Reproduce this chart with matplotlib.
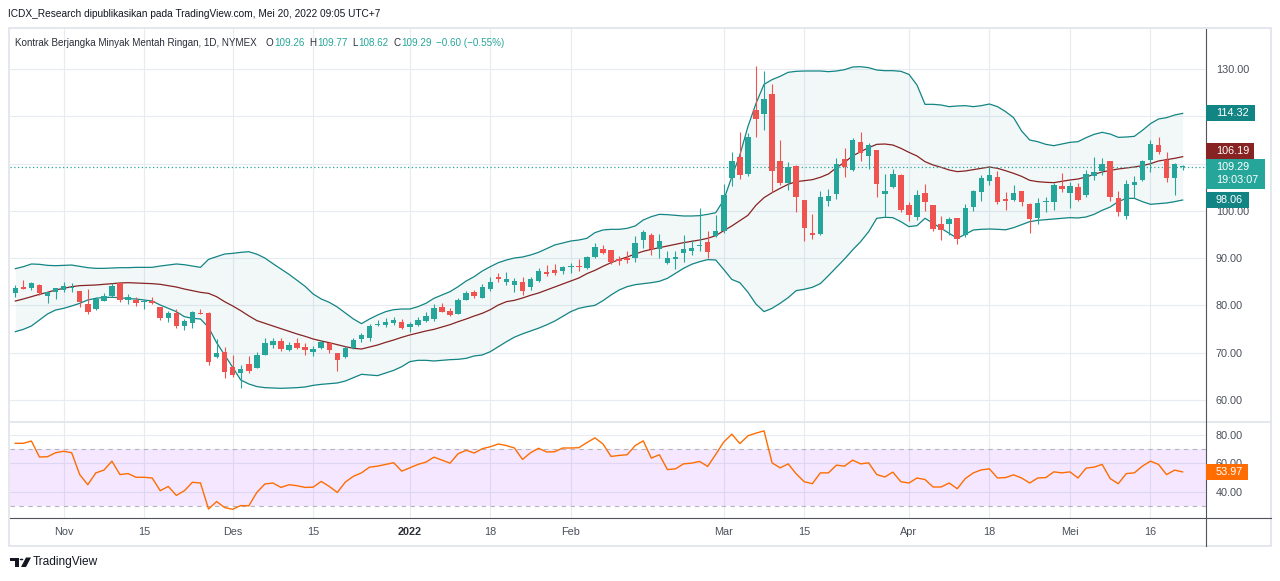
import matplotlib
matplotlib.use("Agg")
import matplotlib.pyplot as plt
from matplotlib.lines import Line2D
from matplotlib.patches import Rectangle, Circle, Polygon
import numpy as np
import pandas as pd

plt.rcParams["font.family"] = ["Liberation Sans", "DejaVu Sans"]

W, H = 1280, 581

# trading days shown (NYMEX holidays removed)
HOLIDAYS = ["2021-11-25", "2021-12-24", "2022-01-17", "2022-02-21", "2022-04-15"]
dates = pd.bdate_range("2021-10-22", "2022-05-20")
dates = dates[~dates.isin(pd.to_datetime(HOLIDAYS))]

OPEN = [82.56, 83.83, 83.62, 84.33, 82.07, 82.92, 83.27, 83.77, 83.06, 80.24,
        79.25, 81.02, 82.00, 84.68, 81.16, 81.16, 80.66, 81.02, 79.60, 77.42,
        78.34, 75.66, 76.36, 78.48, 78.48, 69.03, 70.09, 67.06, 65.65, 67.62,
        66.85, 69.53, 71.64, 72.49, 70.58, 71.99, 71.22, 70.23, 71.08, 71.99,
        69.88, 69.18, 71.08, 72.91, 73.19, 75.87, 75.87, 76.22, 76.57, 75.52,
        75.87, 76.78, 77.14, 79.75, 78.83, 78.20, 81.16, 82.92, 81.65, 83.48,
        86.09, 84.95, 84.40, 85.04, 83.98, 85.25, 87.08, 87.43, 87.36, 88.14,
        88.28, 87.85, 90.18, 91.94, 91.66, 89.83, 90.11, 89.97, 93.77, 94.97,
        92.01, 89.05, 89.90, 91.17, 91.52, 92.50, 93.42, 94.76, 95.82, 107.02,
        111.32, 107.80, 121.33, 120.49, 124.71, 110.55, 105.83, 109.56, 102.30, 95.26,
        95.12, 102.16, 103.50, 110.97, 108.65, 114.50, 111.68, 112.88, 103.50, 105.12,
        107.59, 101.25, 98.78, 103.86, 101.25, 97.16, 97.16, 98.43, 94.90, 100.90,
        104.07, 106.39, 107.24, 102.44, 102.30, 104.20, 101.46, 98.57, 101.81, 101.95,
        105.26, 103.85, 104.98, 103.36, 107.45, 108.43, 110.55, 102.65, 98.99, 105.47,
        106.53, 110.76, 113.93, 110.76, 106.88, 109.26]
HIGH = [84.33, 85.38, 85.03, 84.54, 82.92, 83.62, 85.03, 84.68, 83.06, 83.41,
        81.72, 82.57, 84.68, 84.82, 82.42, 81.72, 81.16, 81.72, 79.75, 78.83,
        79.25, 77.14, 78.90, 79.25, 78.69, 72.91, 71.29, 69.53, 67.41, 69.32,
        70.23, 73.05, 73.05, 73.19, 72.20, 73.05, 71.99, 71.50, 72.70, 72.34,
        69.88, 71.50, 73.05, 74.11, 76.08, 76.93, 77.28, 77.49, 77.14, 76.43,
        77.56, 78.55, 80.24, 80.45, 79.39, 81.51, 83.06, 83.27, 84.47, 85.95,
        86.93, 87.05, 85.74, 85.95, 85.95, 87.85, 88.49, 88.77, 88.35, 89.05,
        89.76, 90.39, 93.21, 92.72, 91.66, 90.53, 91.59, 94.69, 95.96, 95.26,
        95.12, 91.45, 91.45, 94.97, 93.84, 100.68, 95.75, 99.13, 105.68, 112.45,
        116.75, 116.40, 130.63, 129.58, 126.83, 114.99, 110.27, 109.70, 102.30, 99.27,
        104.21, 104.63, 111.25, 113.23, 115.48, 116.61, 114.29, 112.88, 107.80, 108.79,
        107.73, 101.95, 104.42, 105.69, 101.25, 98.92, 98.64, 98.43, 101.46, 104.42,
        107.59, 109.35, 108.44, 103.92, 105.47, 104.20, 101.74, 102.79, 103.01, 105.82,
        107.94, 106.04, 105.82, 108.64, 111.46, 111.25, 110.55, 104.20, 106.53, 107.45,
        110.76, 114.99, 115.69, 112.38, 110.06, 109.77]
LOW = [81.86, 83.55, 83.27, 82.21, 80.59, 81.37, 82.92, 82.85, 79.75, 78.20,
       79.04, 81.02, 81.72, 80.80, 80.31, 79.89, 79.25, 80.31, 76.93, 76.57,
       75.16, 74.81, 75.31, 78.20, 67.41, 68.82, 64.59, 64.95, 62.62, 65.79,
       66.71, 69.53, 71.08, 70.37, 70.37, 70.79, 69.53, 69.39, 70.79, 69.88,
       66.21, 68.82, 70.79, 72.34, 72.49, 75.73, 75.52, 75.87, 75.02, 74.46,
       75.66, 76.57, 76.78, 78.69, 77.84, 78.20, 81.16, 81.51, 81.65, 83.13,
       85.03, 84.40, 82.92, 82.22, 83.27, 85.04, 86.24, 86.52, 86.66, 86.80,
       87.36, 87.64, 89.97, 90.81, 88.77, 88.56, 89.05, 89.26, 92.22, 90.67,
       90.11, 88.70, 87.64, 89.26, 90.67, 91.59, 90.11, 94.55, 95.40, 105.26,
       106.67, 107.45, 115.69, 117.10, 103.93, 105.48, 104.42, 99.84, 93.64, 94.06,
       94.90, 101.10, 102.52, 107.24, 108.44, 110.62, 108.79, 103.01, 98.64, 104.77,
       99.84, 97.94, 98.07, 100.05, 95.82, 93.85, 94.90, 93.00, 94.55, 99.98,
       102.09, 105.48, 101.46, 100.19, 102.09, 101.03, 95.40, 97.16, 99.83, 100.19,
       103.92, 100.54, 102.16, 103.01, 106.53, 107.59, 102.09, 98.99, 98.28, 102.65,
       106.32, 108.29, 111.96, 106.18, 103.36, 108.62]
CLOSE = [83.62, 83.55, 84.82, 82.56, 82.92, 83.62, 84.12, 83.98, 80.80, 78.69,
         81.30, 82.00, 84.12, 81.16, 81.72, 80.59, 80.94, 80.59, 77.28, 78.34,
         75.66, 76.71, 78.69, 78.20, 68.12, 69.88, 66.00, 65.30, 66.50, 66.22,
         69.53, 71.99, 72.49, 70.79, 71.64, 71.08, 70.65, 70.79, 72.34, 70.58,
         68.47, 71.08, 72.70, 73.76, 75.66, 76.08, 76.57, 76.93, 75.16, 76.08,
         76.93, 77.84, 79.39, 78.69, 77.99, 81.16, 82.56, 82.07, 83.90, 84.89,
         85.60, 85.60, 85.25, 83.13, 85.60, 87.29, 86.59, 86.80, 88.07, 88.28,
         88.14, 90.18, 92.29, 91.17, 89.12, 89.48, 89.69, 93.21, 95.54, 91.94,
         93.56, 89.97, 90.18, 91.94, 92.15, 92.85, 91.24, 95.75, 103.36, 110.55,
         107.59, 115.69, 119.36, 123.66, 108.51, 105.83, 109.28, 103.01, 96.31, 94.90,
         102.87, 103.15, 109.92, 109.21, 114.99, 112.17, 113.93, 105.69, 104.21, 107.80,
         100.19, 99.13, 103.36, 101.95, 96.10, 95.96, 98.29, 94.06, 100.54, 104.21,
         106.88, 107.59, 101.95, 102.16, 103.71, 101.95, 98.28, 101.60, 102.09, 105.47,
         104.56, 105.26, 102.30, 107.80, 108.15, 109.91, 103.01, 99.69, 105.68, 106.04,
         110.55, 114.07, 112.38, 107.02, 109.89, 109.29]

# Bollinger bands as drawn on the chart
BB_UPPER = [87.78, 88.20, 88.77, 88.70, 88.48, 88.41, 88.48, 88.55, 88.27, 87.99,
            87.85, 87.85, 87.92, 87.99, 87.99, 88.06, 88.06, 88.06, 88.34, 88.55,
            88.77, 88.62, 88.34, 88.06, 89.75, 90.32, 90.88, 91.02, 91.23, 91.37,
            90.85, 90.03, 88.84, 87.71, 86.58, 85.31, 84.04, 82.42, 81.37, 80.66,
            79.67, 78.41, 77.14, 76.15, 77.14, 77.98, 78.69, 79.11, 79.25, 79.25,
            79.74, 80.45, 81.51, 82.21, 82.92, 83.97, 85.17, 86.09, 87.28, 88.20,
            89.05, 89.61, 90.04, 90.25, 90.67, 91.24, 92.01, 92.79, 93.21, 93.63,
            93.84, 94.20, 95.40, 95.96, 96.10, 96.10, 96.31, 96.81, 98.07, 98.78,
            99.27, 99.20, 99.06, 98.92, 98.92, 98.99, 99.27, 99.62, 102.30, 107.23,
            111.82, 117.81, 122.70, 126.76, 127.75, 128.45, 129.30, 129.51, 129.58, 129.58,
            129.58, 129.44, 129.58, 129.86, 130.42, 130.49, 130.28, 129.79, 129.65, 129.65,
            129.51, 128.87, 126.62, 122.53, 122.53, 122.39, 122.04, 122.18, 122.25, 122.04,
            122.25, 122.60, 122.04, 121.00, 119.71, 116.89, 114.99, 114.63, 114.07, 113.79,
            114.14, 114.49, 114.63, 115.48, 116.18, 116.61, 116.25, 115.55, 115.62, 115.76,
            117.03, 118.44, 119.43, 119.71, 120.27, 120.62]
BB_BASIS = [80.94, 81.37, 81.86, 82.35, 82.78, 83.27, 83.62, 83.97, 84.19, 84.26,
            84.33, 84.47, 84.61, 84.75, 84.82, 84.75, 84.68, 84.61, 84.47, 84.19,
            83.90, 83.48, 83.13, 82.78, 82.56, 81.86, 80.80, 79.90, 78.90, 77.80,
            76.80, 76.22, 75.66, 75.09, 74.53, 73.97, 73.47, 72.91, 72.49, 72.13,
            71.71, 71.29, 70.94, 70.79, 71.22, 71.64, 72.20, 72.70, 73.26, 73.76,
            74.18, 74.60, 74.95, 75.45, 75.94, 76.57, 77.14, 77.77, 78.34, 79.11,
            80.10, 80.80, 81.09, 81.58, 82.15, 82.64, 83.27, 83.91, 84.54, 85.18,
            85.81, 86.73, 87.43, 88.28, 89.05, 89.69, 90.25, 90.89, 91.45, 91.87,
            92.22, 92.58, 92.93, 93.28, 93.56, 93.84, 94.20, 94.76, 95.82, 96.81,
            97.93, 99.06, 101.20, 102.80, 103.85, 104.77, 105.62, 106.18, 106.39, 106.60,
            107.10, 107.80, 109.14, 110.27, 111.61, 112.52, 113.37, 114.07, 114.14, 113.93,
            113.23, 112.38, 111.61, 110.41, 109.70, 109.21, 108.65, 108.30, 108.44, 108.72,
            109.00, 109.28, 109.00, 108.50, 107.94, 107.30, 106.46, 106.18, 106.04, 105.97,
            106.25, 106.53, 106.74, 107.16, 107.73, 108.22, 108.57, 108.86, 109.07, 109.28,
            109.56, 109.98, 110.55, 110.83, 111.11, 111.46]
BB_LOWER = [74.46, 74.95, 75.66, 76.93, 78.20, 79.04, 79.39, 79.89, 80.45, 81.16,
            81.51, 81.72, 81.72, 81.65, 81.44, 81.37, 81.16, 80.94, 80.10, 79.39,
            78.69, 77.63, 77.28, 77.14, 75.38, 72.13, 69.53, 66.92, 64.24, 63.40,
            62.85, 62.62, 62.55, 62.48, 62.55, 62.62, 62.76, 63.11, 63.32, 63.47,
            63.61, 64.03, 64.73, 65.44, 65.30, 65.16, 65.72, 66.28, 67.06, 68.12,
            68.40, 68.40, 68.26, 68.40, 68.54, 68.61, 68.82, 69.32, 69.53, 70.23,
            71.29, 72.34, 73.30, 74.00, 74.60, 75.20, 75.90, 76.70, 77.70, 78.70,
            79.40, 79.75, 80.03, 81.02, 82.22, 83.27, 83.98, 84.40, 84.61, 84.82,
            85.11, 85.74, 86.80, 87.85, 88.70, 89.26, 89.69, 89.62, 87.60, 85.50,
            84.82, 82.80, 80.30, 78.70, 79.40, 80.46, 81.66, 83.14, 83.42, 83.84,
            84.62, 86.31, 88.07, 89.83, 91.74, 93.50, 95.61, 98.43, 98.64, 98.57,
            97.72, 96.67, 96.88, 98.43, 97.37, 96.31, 95.26, 94.20, 95.05, 95.96,
            96.10, 96.17, 96.10, 96.00, 96.45, 97.09, 97.72, 98.00, 98.14, 98.28,
            98.43, 98.57, 98.50, 98.71, 99.27, 100.12, 100.82, 101.95, 102.65, 102.65,
            101.95, 101.39, 101.53, 101.67, 101.95, 102.30]
RSI = [74.0, 74.0, 75.6, 64.4, 64.6, 67.4, 68.4, 67.4, 52.1, 45.0,
       53.3, 55.2, 61.5, 52.1, 52.8, 50.2, 50.2, 49.7, 40.8, 43.8,
       37.5, 40.8, 46.7, 46.2, 28.0, 33.2, 29.0, 27.8, 30.4, 30.2,
       39.6, 45.5, 46.2, 43.1, 45.0, 44.3, 43.1, 43.3, 47.3, 43.8,
       39.6, 46.9, 50.9, 53.3, 57.3, 58.0, 59.2, 60.4, 54.5, 56.8,
       59.2, 60.8, 64.3, 62.2, 60.1, 66.7, 69.1, 67.2, 70.2, 71.6,
       73.5, 72.4, 70.7, 62.7, 67.4, 70.5, 67.9, 68.1, 70.7, 70.7,
       70.9, 74.5, 77.8, 73.5, 64.8, 65.5, 66.0, 72.4, 75.7, 63.6,
       66.0, 55.6, 56.1, 59.6, 60.1, 61.3, 57.8, 66.2, 74.9, 80.4,
       73.8, 79.2, 81.1, 82.7, 60.3, 56.8, 59.6, 52.6, 47.1, 45.7,
       53.3, 53.3, 58.7, 58.0, 62.2, 59.6, 60.3, 52.1, 50.4, 53.8,
       47.1, 46.2, 49.7, 48.6, 43.4, 43.4, 46.2, 42.2, 49.3, 53.3,
       55.4, 56.1, 49.7, 50.0, 51.9, 49.7, 46.2, 49.7, 50.0, 54.0,
       53.3, 54.0, 49.7, 56.6, 57.3, 59.2, 49.3, 45.7, 52.8, 53.3,
       58.0, 61.5, 59.2, 52.1, 55.2, 53.97]

TICK_DATES = ["2021-11-01", "2021-11-15", "2021-12-01", "2021-12-15", "2022-01-03",
              "2022-01-18", "2022-02-01", "2022-03-01", "2022-03-15", "2022-04-01",
              "2022-04-18", "2022-05-02", "2022-05-16"]
TICK_LABELS = ["Nov", "15", "Des", "15", "2022", "18", "Feb", "Mar", "15", "Apr", "18", "Mei", "16"]
PRICE_TICKS = [60, 70, 80, 90, 100, 110, 120, 130]
RSI_TICKS = [40, 60, 80]
RSI_BAND = (30, 70)
BB_TAGS = ["114.32", "106.19", "98.06"]
CLOCK = "19:03:07"

HEADER = "ICDX_Research dipublikasikan pada TradingView.com, Mei 20, 2022 09:05 UTC+7"
TITLE = "Kontrak Berjangka Minyak Mentah Ringan, 1D, NYMEX"
OHLC_LEGEND = [("O", "109.26"), ("H", "109.77"), ("L", "108.62"), ("C", "109.29")]
CHANGE = "\u22120.60 (\u22120.55%)"

GREEN = "#26a69a"
RED = "#ef5350"
BB_LINE = "#138484"
BB_MID = "#872323"
RSI_COLOR = "#ff6d00"
GRID = "#e6ecf2"
TEXT = "#4a4f5a"
DARK = "#2a2e39"
AXIS = "#50535e"

# pixel layout
LEFT, SCALE_X, RIGHT = 10, 1206, 1271
TOP, SEP, AX_BOTTOM, BOTTOM = 29, 421, 518, 546


def fx(px):
    return px / W


def fy(py):
    return 1 - py / H


fig = plt.figure(figsize=(W / 100, H / 100), dpi=100)
fig.patch.set_facecolor("white")

ax = fig.add_axes([fx(LEFT), fy(SEP), (SCALE_X - LEFT) / W, (SEP - TOP) / H])
rax = fig.add_axes([fx(LEFT), fy(AX_BOTTOM), (SCALE_X - LEFT) / W, (AX_BOTTOM - SEP) / H])

idx = np.arange(len(dates))
o, h, l, c = (np.array(v) for v in (OPEN, HIGH, LOW, CLOSE))
tick_pos = [dates.get_loc(pd.Timestamp(d)) for d in TICK_DATES]

for a in (ax, rax):
    a.set_xlim(-0.66, 147.9)
    for s in a.spines.values():
        s.set_visible(False)
    a.set_xticks(tick_pos)
    a.yaxis.tick_right()
    a.tick_params(length=0, labelsize=7.8, labelcolor=TEXT, pad=7.0)
    a.grid(True, color=GRID, lw=0.8, zorder=0)
    a.set_axisbelow(True)

# --- price pane ---
ax.set_ylim(55.57, 138.46)
ax.set_yticks(PRICE_TICKS)
ax.tick_params(axis="x", labelbottom=False)

ax.fill_between(idx, BB_LOWER, BB_UPPER, color="#198787", alpha=0.055, lw=0, zorder=1)
ax.plot(idx, BB_UPPER, color=BB_LINE, lw=0.9, zorder=2)
ax.plot(idx, BB_LOWER, color=BB_LINE, lw=0.9, zorder=2)
ax.plot(idx, BB_BASIS, color=BB_MID, lw=0.9, zorder=2)

up = c >= o
colors = np.where(up, GREEN, RED)
ax.vlines(idx, l, h, colors=colors, lw=0.8, zorder=3)
ax.bar(idx, np.maximum(np.abs(c - o), 0.2), bottom=np.minimum(o, c), width=0.68,
       color=colors, lw=0, zorder=4)
ax.axhline(c[-1], color=GREEN, lw=0.9, ls=(0, (1, 2)), zorder=2)

# --- RSI pane ---
rax.set_ylim(21.7, 89.6)
rax.set_yticks(RSI_TICKS)
rax.set_xticklabels(TICK_LABELS)
for lab, txt in zip(rax.get_xticklabels(), TICK_LABELS):
    if txt == "2022":
        lab.set_fontweight("bold")
        lab.set_color(DARK)
rax.tick_params(axis="x", pad=6.5)
rax.axhspan(*RSI_BAND, color="#9915ff", alpha=0.1, lw=0, zorder=1)
for v in RSI_BAND:
    rax.axhline(v, color="#b2b5be", lw=0.8, ls=(0, (4, 4)), zorder=2)
rax.plot(idx, RSI, color=RSI_COLOR, lw=1.0, zorder=3)


# --- price-scale tags ---
def data_py(a, v):
    return H - a.transData.transform((0, v))[1]


spans = []


def tag(py, lines, color, width, tag_h=16):
    top = py - tag_h / 2
    total = tag_h + 14 * (len(lines) - 1)
    spans.append((top, top + total))
    fig.add_artist(Rectangle((fx(SCALE_X), fy(top + total)), width / W, total / H,
                             facecolor=color, edgecolor="none", zorder=5))
    for k, s in enumerate(lines):
        fig.text(fx(1216), fy(py + 13.5 * k), s, color="white", fontsize=7.8,
                 va="center", ha="left", zorder=6)


price_py = data_py(ax, c[-1])
upper_py = data_py(ax, BB_UPPER[-1])
basis_py = min(data_py(ax, BB_BASIS[-1]), price_py - 16)
lower_py = data_py(ax, BB_LOWER[-1])
tag(upper_py, [BB_TAGS[0]], BB_LINE, 49)
tag(basis_py, [BB_TAGS[1]], BB_MID, 48)
tag(price_py, [f"{c[-1]:.2f}", CLOCK], GREEN, 59)
tag(lower_py, [BB_TAGS[2]], BB_LINE, 43)
tag(data_py(rax, RSI[-1]), [f"{RSI[-1]:.2f}"], RSI_COLOR, 42)


def scale_labels(a, ticks):
    # labels fully hidden behind a tag are not drawn (tags sit on top of them)
    out = []
    for v in ticks:
        py = data_py(a, v)
        hidden = any(t - 1 <= py - 4 and py + 4 <= b + 1 for t, b in spans)
        out.append("" if hidden else f"{v:.2f}")
    a.set_yticklabels(out)


scale_labels(ax, PRICE_TICKS)
scale_labels(rax, RSI_TICKS)

# --- frame lines ---
fig.add_artist(Rectangle((fx(LEFT - 1), fy(BOTTOM)), (RIGHT - LEFT + 1) / W, (BOTTOM - TOP + 1) / H,
                         facecolor="none", edgecolor="#e0e3eb", lw=1.2, zorder=0))
fig.add_artist(Line2D([fx(LEFT), fx(RIGHT)], [fy(SEP + 0.5)] * 2, color="#e0e3eb", lw=1.2))
fig.add_artist(Line2D([fx(LEFT), fx(RIGHT)], [fy(AX_BOTTOM)] * 2, color=AXIS, lw=0.8))
fig.add_artist(Line2D([fx(SCALE_X)] * 2, [fy(TOP), fy(BOTTOM)], color=AXIS, lw=0.8))

# --- header and legend ---
fig.text(fx(8), fy(14), HEADER, fontsize=7.3, color="#131722", va="center")

renderer = fig.canvas.get_renderer()


def chain(parts, x0, baseline):
    x = x0
    for s, col, gap in parts:
        t = fig.text(fx(x), fy(baseline), s, fontsize=7.1, color=col, va="baseline")
        x = t.get_window_extent(renderer).x1 + gap


parts = [(TITLE, DARK, 9)]
for letter, val in OHLC_LEGEND:
    parts += [(letter, DARK, 0.5), (val, GREEN, 5)]
parts.append((CHANGE, GREEN, 0))
chain(parts, 15, 45.5)

# --- TradingView brand ---
BRAND = "#131722"
fig.add_artist(Rectangle((fx(10), fy(561)), 9 / W, 3.5 / H, facecolor=BRAND, lw=0))
fig.add_artist(Rectangle((fx(14.5), fy(567)), 4 / W, 9.5 / H, facecolor=BRAND, lw=0))
fig.add_artist(Circle((fx(21.5), fy(559.5)), 1.8 / W, facecolor=BRAND, lw=0,
                      transform=fig.transFigure))
fig.add_artist(Polygon([(fx(21), fy(567)), (fx(26), fy(557.5)), (fx(31), fy(557.5)), (fx(26), fy(567))],
                       closed=True, facecolor=BRAND, lw=0))
fig.text(fx(33), fy(562.5), "TradingView", fontsize=8.6, color=BRAND, va="center")

fig.savefig("out.png", dpi=100, facecolor="white")
